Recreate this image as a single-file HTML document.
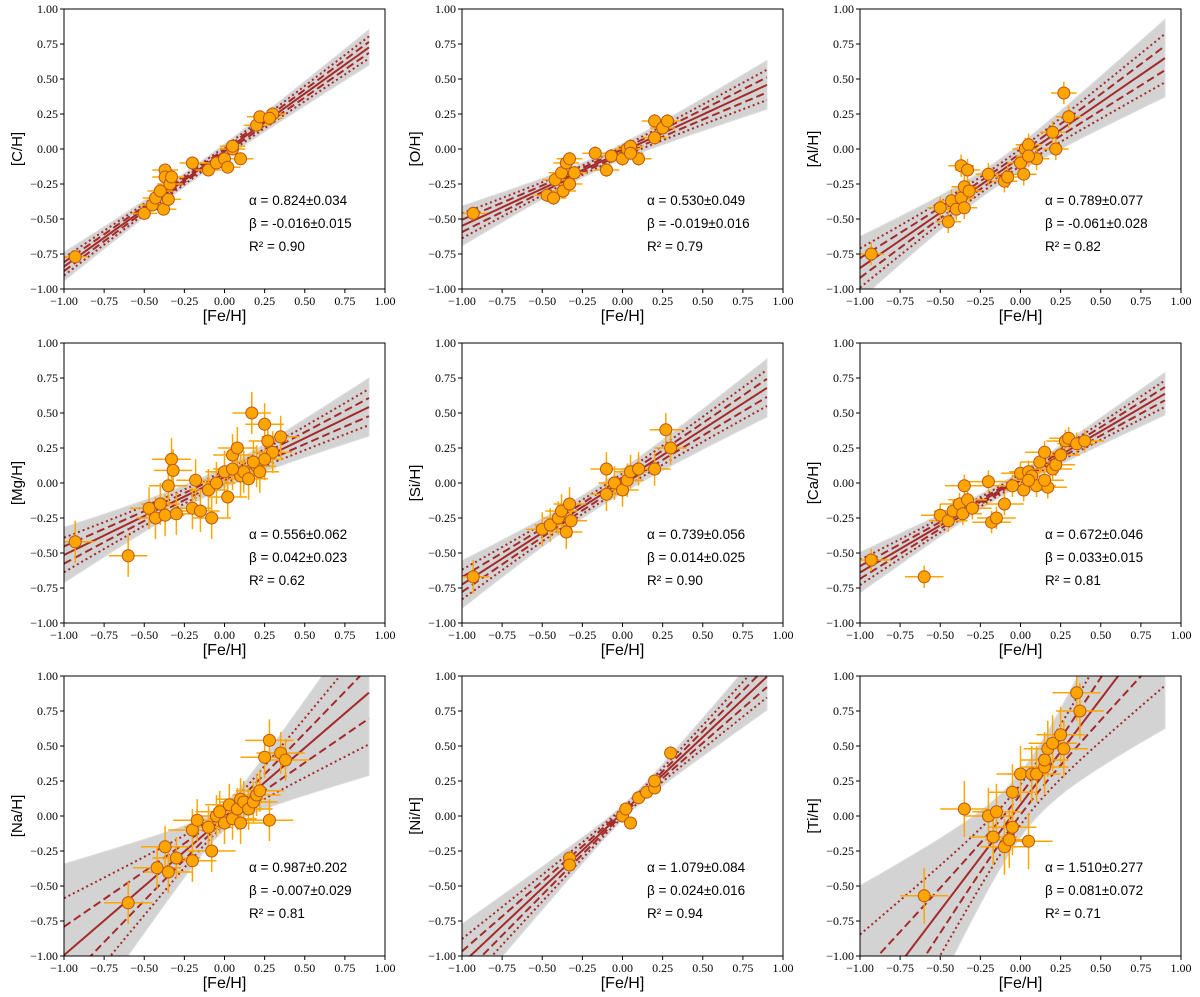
<!DOCTYPE html>
<html><head><meta charset="utf-8"><style>
body{margin:0;background:#fff;width:1200px;height:997px;overflow:hidden}
svg{display:block}
</style></head><body>
<svg id="fig" width="1200" height="997" xmlns="http://www.w3.org/2000/svg"></svg>
<script>
const panelNames = ["C","O","Al","Mg","Si","Ca","Na","Ni","Ti"];
const alphas = [0.824,0.530,0.789,0.556,0.739,0.672,0.987,1.079,1.510];
const alphaErr = [0.034,0.049,0.077,0.062,0.056,0.046,0.202,0.084,0.277];
const betas = [-0.016,-0.019,-0.061,0.042,0.014,0.033,-0.007,0.024,0.081];
const betaErr = [0.015,0.016,0.028,0.023,0.025,0.015,0.029,0.016,0.072];
const r2 = ["0.90","0.79","0.82","0.62","0.90","0.81","0.81","0.94","0.71"];
const tickValues = [-1,-0.75,-0.5,-0.25,0,0.25,0.5,0.75,1];
const tickLabels = ["\u22121.00","\u22120.75","\u22120.50","\u22120.25","0.00","0.25","0.50","0.75","1.00"];
const xC = [-0.93,-0.5,-0.45,-0.43,-0.4,-0.38,-0.37,-0.37,-0.35,-0.34,-0.33,-0.2,-0.1,-0.05,0,0.02,0.05,0.05,0.1,0.2,0.22,0.3,0.28];
const yC = [-0.77,-0.46,-0.4,-0.35,-0.3,-0.43,-0.15,-0.2,-0.36,-0.25,-0.2,-0.1,-0.15,-0.1,-0.07,-0.13,0,0.02,-0.07,0.17,0.23,0.25,0.22];
const xO = [-0.93,-0.47,-0.43,-0.42,-0.38,-0.37,-0.35,-0.33,-0.33,-0.3,-0.17,-0.1,-0.07,0,0.03,0.05,0.1,0.2,0.2,0.25,0.28,0.05];
const yO = [-0.46,-0.33,-0.35,-0.22,-0.17,-0.3,-0.1,-0.07,-0.25,-0.17,-0.03,-0.15,-0.05,-0.07,0,0.02,-0.07,0.2,0.08,0.15,0.2,-0.03];
const xAl = [-0.93,-0.5,-0.45,-0.43,-0.4,-0.37,-0.37,-0.35,-0.35,-0.33,-0.32,-0.2,-0.1,-0.08,0,0.02,0.03,0.05,0.1,0.2,0.22,0.27,0.3,0.05];
const yAl = [-0.75,-0.42,-0.52,-0.37,-0.43,-0.12,-0.35,-0.27,-0.42,-0.15,-0.3,-0.18,-0.23,-0.2,-0.1,-0.18,0,0.03,-0.07,0.12,0,0.4,0.23,-0.05];
const xMg = [-0.93,-0.6,-0.47,-0.43,-0.4,-0.37,-0.35,-0.33,-0.32,-0.3,-0.2,-0.18,-0.15,-0.1,-0.08,-0.05,0,0.02,0.05,0.08,0.1,0.12,0.15,0.17,0.2,0.22,0.25,0.27,0.3,0.35,0.25,0.05,0.18];
const yMg = [-0.42,-0.52,-0.18,-0.25,-0.15,-0.23,-0.02,0.17,0.09,-0.22,-0.18,0.02,-0.2,-0.05,-0.25,0,0.08,-0.1,0.2,0.25,0.05,0.08,0.03,0.5,0.12,0.08,0.42,0.3,0.22,0.33,0.17,0.1,0.15];
const xSi = [-0.93,-0.5,-0.45,-0.4,-0.38,-0.35,-0.33,-0.32,-0.1,-0.1,-0.05,0,0.03,0.05,0.1,0.2,0.27,0.3];
const ySi = [-0.67,-0.33,-0.3,-0.25,-0.2,-0.35,-0.15,-0.27,0.1,-0.08,0,-0.05,0.02,0.08,0.1,0.1,0.38,0.25];
const xCa = [-0.93,-0.6,-0.5,-0.45,-0.42,-0.38,-0.36,-0.35,-0.33,-0.3,-0.2,-0.18,-0.15,-0.1,-0.05,0,0.02,0.05,0.07,0.1,0.12,0.15,0.17,0.2,0.22,0.25,0.28,0.3,0.35,0.4,0.15,0.05];
const yCa = [-0.55,-0.67,-0.23,-0.27,-0.2,-0.15,-0.22,-0.02,-0.12,-0.18,0.01,-0.28,-0.25,-0.15,-0.02,0.07,-0.05,0.08,0.05,-0.02,0.15,0.22,-0.03,0.1,0.13,0.2,0.3,0.32,0.28,0.3,0.02,0.02];
const xNa = [-0.6,-0.42,-0.37,-0.35,-0.3,-0.2,-0.2,-0.17,-0.1,-0.08,-0.05,-0.03,0,0.03,0.05,0.08,0.1,0.12,0.15,0.18,0.2,0.22,0.25,0.28,0.28,0.35,0.38,0.1];
const yNa = [-0.62,-0.37,-0.22,-0.4,-0.3,-0.1,-0.32,-0.03,-0.08,-0.25,0,0.03,-0.05,0.08,-0.02,0.05,0.12,0.1,0.05,0.1,0.15,0.18,0.42,0.54,-0.03,0.45,0.4,-0.05];
const xNi = [-0.33,-0.33,0,0.02,0.05,0.1,0.15,0.2,0.2,0.3];
const yNi = [-0.3,-0.35,0,0.05,-0.05,0.13,0.17,0.2,0.25,0.45];
const xTi = [-0.6,-0.35,-0.2,-0.17,-0.15,-0.1,-0.07,-0.05,-0.05,0,0.05,0.07,0.1,0.15,0.17,0.2,0.25,0.27,0.35,0.37,0.15];
const yTi = [-0.57,0.05,0,-0.15,0.03,-0.22,-0.17,-0.08,0.17,0.3,-0.18,0.3,0.3,0.35,0.48,0.52,0.58,0.48,0.88,0.75,0.4];
const xs = [xC,xO,xAl,xMg,xSi,xCa,xNa,xNi,xTi];
const ys = [yC,yO,yAl,yMg,ySi,yCa,yNa,yNi,yTi];
const xErrs = [0.08,0.08,0.08,0.12,0.1,0.12,0.15,0.04,0.15];
const yErrs = [0.03,0.05,0.08,0.15,0.12,0.08,0.15,0.04,0.2];

const NS="http://www.w3.org/2000/svg";
const fig=document.getElementById('fig');
function mk(tag,attrs,parent){const e=document.createElementNS(NS,tag);for(const k in attrs)e.setAttribute(k,attrs[k]);(parent||fig).appendChild(e);return e;}
const colL=[64,462,860], rowT=[9,343,676], W=321, H=280;
const defs=mk('defs',{});
for(let p=0;p<9;p++){
  const L=colL[p%3], T=rowT[Math.floor(p/3)];
  const sx=v=>L+(v+1)/2*W, sy=v=>T+H-(v+1)/2*H;
  const g=mk('g',{});
  
  
  const cp=mk('clipPath',{id:'c'+p},defs); mk('rect',{x:L,y:T,width:W,height:H},cp);
  const pg=mk('g',{'clip-path':'url(#c'+p+')'},g);
  const a=alphas[p],b=betas[p],sa=alphaErr[p],sb=betaErr[p];
  const x0=xs[p].reduce((s,v)=>s+v,0)/xs[p].length;
  const sig=x=>Math.sqrt(Math.pow(sa*(x-x0),2)+sb*sb);
  const line=x=>a*x+b;
  const clampY=v=>Math.max(-1.05,Math.min(1.05,v));
  const pts=[]; for(let i=0;i<=40;i++)pts.push(-1+1.9*i/40);
  const up=pts.map(x=>sx(x)+','+sy(clampY(line(x)+3.2*sig(x))));
  const dn=pts.slice().reverse().map(x=>sx(x)+','+sy(clampY(line(x)-3.2*sig(x))));
  const band=mk('polygon',{points:up.concat(dn).join(' '),fill:'#d3d3d3',stroke:'#dcdcdc'},pg);
  
  
  const curve=(k)=>pts.map((x,i)=>(i?'L':'M')+sx(x)+','+sy(clampY(line(x)+k*sig(x)))).join('');
  const styles=[[0,'none'],[1,'8,4'],[-1,'8,4'],[2,'2,3'],[-2,'2,3']];
  styles.forEach(s=>{const l=mk('path',{d:curve(s[0]),fill:'none',stroke:'#a52a2a','stroke-width':2,'stroke-dasharray':s[1]},pg);
    
    });
  xs[p].forEach((x,i)=>{const y=ys[p][i],ex=xErrs[p],ey=yErrs[p];
    mk('line',{x1:sx(x-ex),x2:sx(x+ex),y1:sy(y),y2:sy(y),stroke:'#ffa500','stroke-width':1.5},pg);
    mk('line',{x1:sx(x),x2:sx(x),y1:sy(y-ey),y2:sy(y+ey),stroke:'#ffa500','stroke-width':1.5},pg);});
  xs[p].forEach((x,i)=>{const c=mk('circle',{cx:sx(x),cy:sy(ys[p][i]),r:6,fill:'#ffa500',stroke:'#b5561a','stroke-width':1},pg);
    
    });
  mk('rect',{x:L,y:T,width:W,height:H,fill:'none',stroke:'#000','stroke-width':1},g);
  tickValues.forEach((v,i)=>{
    mk('line',{x1:sx(v),x2:sx(v),y1:T+H,y2:T+H+4,stroke:'#000'},g);
    const tx=mk('text',{x:sx(v),y:T+H+16,'font-size':12,'text-anchor':'middle','font-family':'Liberation Serif, serif'},g); tx.textContent=tickLabels[i];
    mk('line',{x1:L-4,x2:L,y1:sy(v),y2:sy(v),stroke:'#000'},g);
    const ty=mk('text',{x:L-6,y:sy(v)+4,'font-size':12,'text-anchor':'end','font-family':'Liberation Serif, serif'},g); ty.textContent=tickLabels[i];
  });
  const xl=mk('text',{x:L+W/2,y:T+H+32,'font-size':16,'text-anchor':'middle','font-family':'Liberation Sans, sans-serif'},g); xl.textContent='[Fe/H]';
   
  const yl=mk('text',{x:0,y:0,'font-size':15,'text-anchor':'middle','font-family':'Liberation Sans, sans-serif',transform:'translate('+(L-42)+','+(T+H/2)+') rotate(-90)'},g); yl.textContent='['+panelNames[p]+'/H]';
   
  const f=v=>v.toFixed(3);
  const lines=['\u03b1 = '+f(a)+'\u00b1'+f(sa),'\u03b2 = '+f(b)+'\u00b1'+f(sb),'R\u00b2 = '+r2[p]];
  lines.forEach((t,i)=>{const e=mk('text',{x:L+185,y:T+196+i*23,'font-size':13.5,'font-family':'Liberation Sans, sans-serif'},g);e.textContent=t;
     });
}
</script>
</body></html>
